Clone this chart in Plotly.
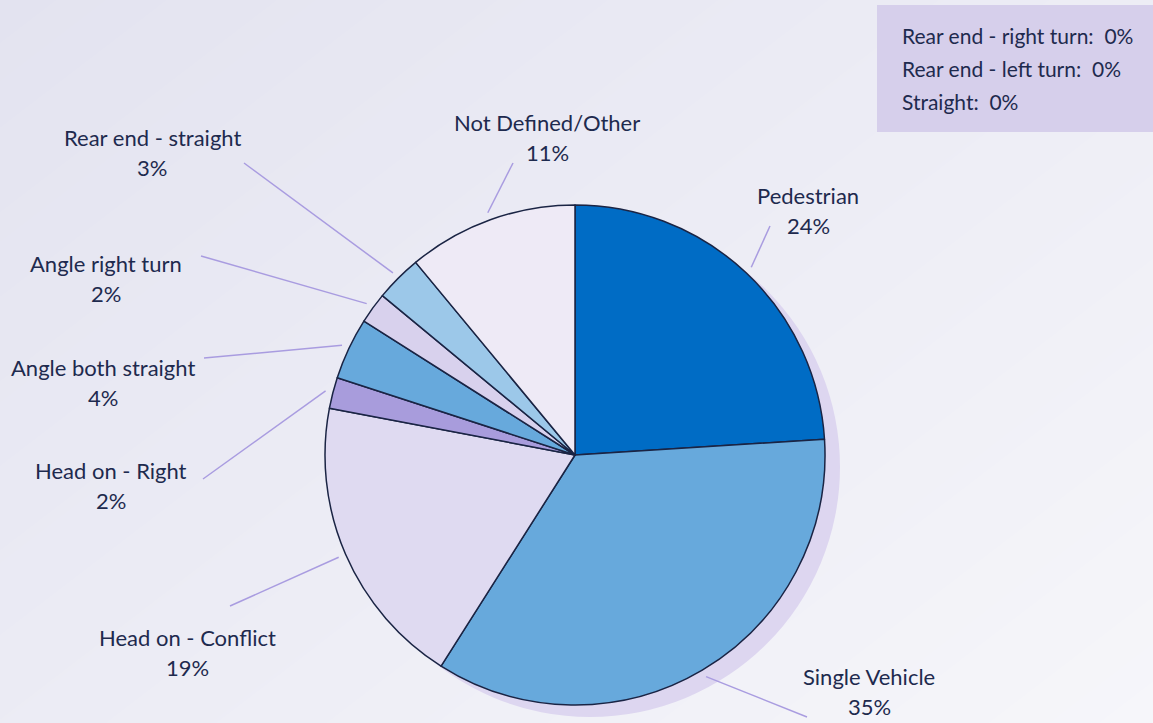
import math
import plotly.graph_objects as go

# slices, clockwise from 12 o'clock
labels = ['Pedestrian', 'Single Vehicle', 'Head on - Conflict', 'Head on - Right',
          'Angle both straight', 'Angle right turn', 'Rear end - straight', 'Not Defined/Other']
values = [24, 35, 19, 2, 4, 2, 3, 11]
colors = ['#006cc5', '#67a9dc', '#dfdaf1', '#a89cdc', '#67a9dc', '#d8d1ed', '#9cc8e9', '#eeeaf6']

# categories at zero, listed in the box
zero_labels = ['Rear end - right turn', 'Rear end - left turn', 'Straight']
zero_values = [0, 0, 0]

W, H = 1153, 723
CX, CY, R = 575, 455, 250
TXT = '#1e2a4e'
LINE = '#a99ce0'
FONT = 'Lato, Open Sans, sans-serif'

# label text centre (x, first-line y) and leader line end, per slice
label_pos = [(808, 195), (869, 676), (187, 637), (111, 470),
             (103, 367), (106, 263), (152, 137), (547, 122)]
line_end = [(770, 226), (807, 717), (230, 606), (203, 479),
            (204, 358), (201, 256), (244, 163), (513, 163)]


def dom(cx, cy, r):
    return dict(x=[(cx - r) / W, (cx + r) / W], y=[1 - (cy + r) / H, 1 - (cy - r) / H])


fig = go.Figure()

# soft background gradient
fig.add_trace(go.Heatmap(x=[0, W], y=[0, H], z=[[0, 0.55], [0.45, 1]], zsmooth='best',
                         colorscale=[[0, '#e3e3f0'], [1, '#f6f6fa']], showscale=False,
                         hoverinfo='skip'))

# shadow disc
fig.add_trace(go.Pie(values=[1], marker=dict(colors=['#ddd6f0']), textinfo='none',
                     domain=dom(CX + 15, CY + 12, R), sort=False, hoverinfo='skip',
                     showlegend=False))

fig.add_trace(go.Pie(labels=labels, values=values, sort=False, direction='clockwise',
                     rotation=0, textinfo='none', showlegend=False,
                     marker=dict(colors=colors, line=dict(color='#1a2444', width=1.5)),
                     domain=dom(CX, CY, R)))

total = sum(values)
shapes = []
annotations = []
cum = 0
for i, (lab, v) in enumerate(zip(labels, values)):
    mid = (cum + v / 2) / total * 2 * math.pi
    cum += v
    sx = CX + 1.03 * R * math.sin(mid)
    sy = CY - 1.03 * R * math.cos(mid)
    ex, ey = line_end[i]
    shapes.append(dict(type='line', xref='x', yref='y', x0=sx, y0=sy, x1=ex, y1=ey,
                       line=dict(color=LINE, width=1.5)))
    tx, ty = label_pos[i]
    annotations.append(dict(x=tx, y=ty, xref='x', yref='y', text=lab, showarrow=False,
                            xanchor='center', yanchor='middle',
                            font=dict(size=22, color=TXT, family=FONT)))
    annotations.append(dict(x=tx, y=ty + 30, xref='x', yref='y',
                            text='%d%%' % round(100 * v / total), showarrow=False,
                            xanchor='center', yanchor='middle',
                            font=dict(size=22, color=TXT, family=FONT)))

# box with zero categories
shapes.append(dict(type='rect', xref='x', yref='y', x0=877, y0=5, x1=1160, y1=132,
                   fillcolor='#d6cfeb', line=dict(width=0)))
for k, (lab, v) in enumerate(zip(zero_labels, zero_values)):
    annotations.append(dict(x=900, y=35 + 33 * k, xref='x', yref='y',
                            text='%s:  %d%%' % (lab, v), showarrow=False,
                            xanchor='left', yanchor='middle',
                            font=dict(size=21, color=TXT, family=FONT)))

fig.update_layout(
    width=W, height=H,
    margin=dict(l=0, r=0, t=0, b=0),
    paper_bgcolor='#ececf5', plot_bgcolor='#ececf5',
    xaxis=dict(range=[0, W], visible=False, fixedrange=True),
    yaxis=dict(range=[H, 0], visible=False, fixedrange=True),
    shapes=shapes, annotations=annotations,
)

fig.write_html("out.html", config={'displayModeBar': False},
               post_script="document.body.style.margin='0';")
